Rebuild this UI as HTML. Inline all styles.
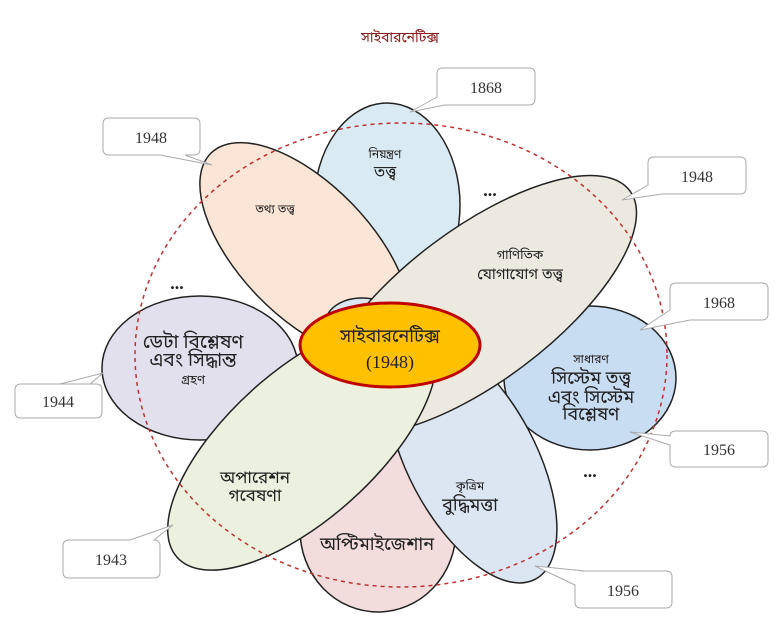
<!DOCTYPE html>
<html><head><meta charset="utf-8"><style>
html,body{margin:0;padding:0;background:#fff;width:780px;height:629px;overflow:hidden}
svg text{font-family:"Noto Sans Bengali","Lohit Bengali","Liberation Serif",serif;fill:#222}
.n{font-family:"Liberation Serif",serif;font-size:16px;fill:#333}
</style></head><body>
<svg width="780" height="629" viewBox="0 0 780 629" xmlns="http://www.w3.org/2000/svg">
<text x="400" y="42" text-anchor="middle" font-size="14" style="fill:#8b1a1a">সাইবারনেটিক্স</text>
<g stroke="#222" stroke-width="1.5">
<ellipse cx="387" cy="205" rx="73" ry="102" fill="#d9eaf2"/>
<ellipse cx="305" cy="250" rx="135" ry="66" fill="#fbe5d6" transform="rotate(46 305 250)"/>
<ellipse cx="200" cy="368" rx="98" ry="72" fill="#e3e0ee"/>
<ellipse cx="378" cy="530" rx="78" ry="82" fill="#f2dcdc"/>
<ellipse cx="590" cy="378" rx="86" ry="72" fill="#c8dcf2"/>
<ellipse cx="472" cy="460" rx="135" ry="64" fill="#dce6f2" transform="rotate(62 472 460)"/>
<ellipse cx="362" cy="322" rx="36" ry="24" fill="#dce6f2"/>
<ellipse cx="478" cy="305" rx="190" ry="76" fill="#eceae0" transform="rotate(-37 478 305)"/>
<ellipse cx="302" cy="445" rx="168" ry="74" fill="#ebf1de" transform="rotate(-42 302 445)"/>
</g>
<ellipse cx="401" cy="355" rx="266" ry="232" fill="none" stroke="#c0302e" stroke-width="1.5" stroke-dasharray="4,4"/>
<ellipse cx="390" cy="345" rx="90" ry="42" fill="#ffc000" stroke="#c00000" stroke-width="3"/>
<text x="390" y="342" text-anchor="middle" font-size="18">সাইবারনেটিক্স</text>
<text x="390" y="368" text-anchor="middle" class="n" style="font-size:18px;fill:#222">(1948)</text>
<text x="385" y="158" text-anchor="middle" font-size="12">নিয়ন্ত্রণ</text>
<text x="385" y="177" text-anchor="middle" font-size="16">তত্ত্ব</text>
<text x="275" y="213" text-anchor="middle" font-size="12">তথ্য তত্ত্ব</text>
<text x="520" y="259" text-anchor="middle" font-size="13">গাণিতিক</text>
<text x="520" y="279" text-anchor="middle" font-size="15">যোগাযোগ তত্ত্ব</text>
<text x="193" y="348" text-anchor="middle" font-size="19">ডেটা বিশ্লেষণ</text>
<text x="193" y="366" text-anchor="middle" font-size="19">এবং সিদ্ধান্ত</text>
<text x="193" y="384" text-anchor="middle" font-size="13">গ্রহণ</text>
<text x="591" y="363" text-anchor="middle" font-size="12">সাধারণ</text>
<text x="591" y="384" text-anchor="middle" font-size="18">সিস্টেম তত্ত্ব</text>
<text x="591" y="403" text-anchor="middle" font-size="18">এবং সিস্টেম</text>
<text x="591" y="420" text-anchor="middle" font-size="18">বিশ্লেষণ</text>
<text x="255" y="483" text-anchor="middle" font-size="17">অপারেশন</text>
<text x="255" y="501" text-anchor="middle" font-size="17">গবেষণা</text>
<text x="470" y="490" text-anchor="middle" font-size="12">কৃত্রিম</text>
<text x="470" y="511" text-anchor="middle" font-size="18">বুদ্ধিমত্তা</text>
<text x="377" y="550" text-anchor="middle" font-size="18">অপ্টিমাইজেশান</text>
<text x="490" y="196" text-anchor="middle" class="n" style="font-weight:bold;fill:#222;font-size:18px">...</text>
<text x="177" y="289" text-anchor="middle" class="n" style="font-weight:bold;fill:#222;font-size:18px">...</text>
<text x="590" y="477" text-anchor="middle" class="n" style="font-weight:bold;fill:#222;font-size:18px">...</text>
<g fill="#fff" stroke="#aaa" stroke-width="1">
<path d="M443 68 H529 Q535 68 535 74 V99 Q535 105 529 105 H445 L410 112 L437 97 V74 Q437 68 443 68 Z"/>
<path d="M109 118 H194 Q200 118 200 124 V149 Q200 155 194 155 H185 L212 165 L160 155 H109 Q103 155 103 149 V124 Q103 118 109 118 Z"/>
<path d="M654 157 H740 Q746 157 746 163 V188 Q746 194 740 194 H662 L622 200 L648 185 V163 Q648 157 654 157 Z"/>
<path d="M676 283 H762 Q768 283 768 289 V314 Q768 320 762 320 H690 L640 330 L670 310 V289 Q670 283 676 283 Z"/>
<path d="M21 384 H96 Q102 384 102 390 V412 Q102 418 96 418 H21 Q15 418 15 412 V390 Q15 384 21 384 H60 L103 373 L90 384 Z"/>
<path d="M676 431 H762 Q768 431 768 437 V461 Q768 467 762 467 H676 Q670 467 670 461 V445 L630 432 L670 436 Q670 431 676 431 Z"/>
<path d="M69 540 H130 L173 525 L154 540 Q160 540 160 546 V572 Q160 578 154 578 H69 Q63 578 63 572 V546 Q63 540 69 540 Z"/>
<path d="M581 571 H666 Q672 571 672 577 V602 Q672 608 666 608 H581 Q575 608 575 602 V585 L535 566 L585 571 Z"/>
</g>
<text x="486" y="93" text-anchor="middle" class="n">1868</text>
<text x="151" y="143" text-anchor="middle" class="n">1948</text>
<text x="697" y="182" text-anchor="middle" class="n">1948</text>
<text x="719" y="308" text-anchor="middle" class="n">1968</text>
<text x="58" y="407" text-anchor="middle" class="n">1944</text>
<text x="719" y="455" text-anchor="middle" class="n">1956</text>
<text x="111" y="565" text-anchor="middle" class="n">1943</text>
<text x="623" y="596" text-anchor="middle" class="n">1956</text>
</svg>
</body></html>
